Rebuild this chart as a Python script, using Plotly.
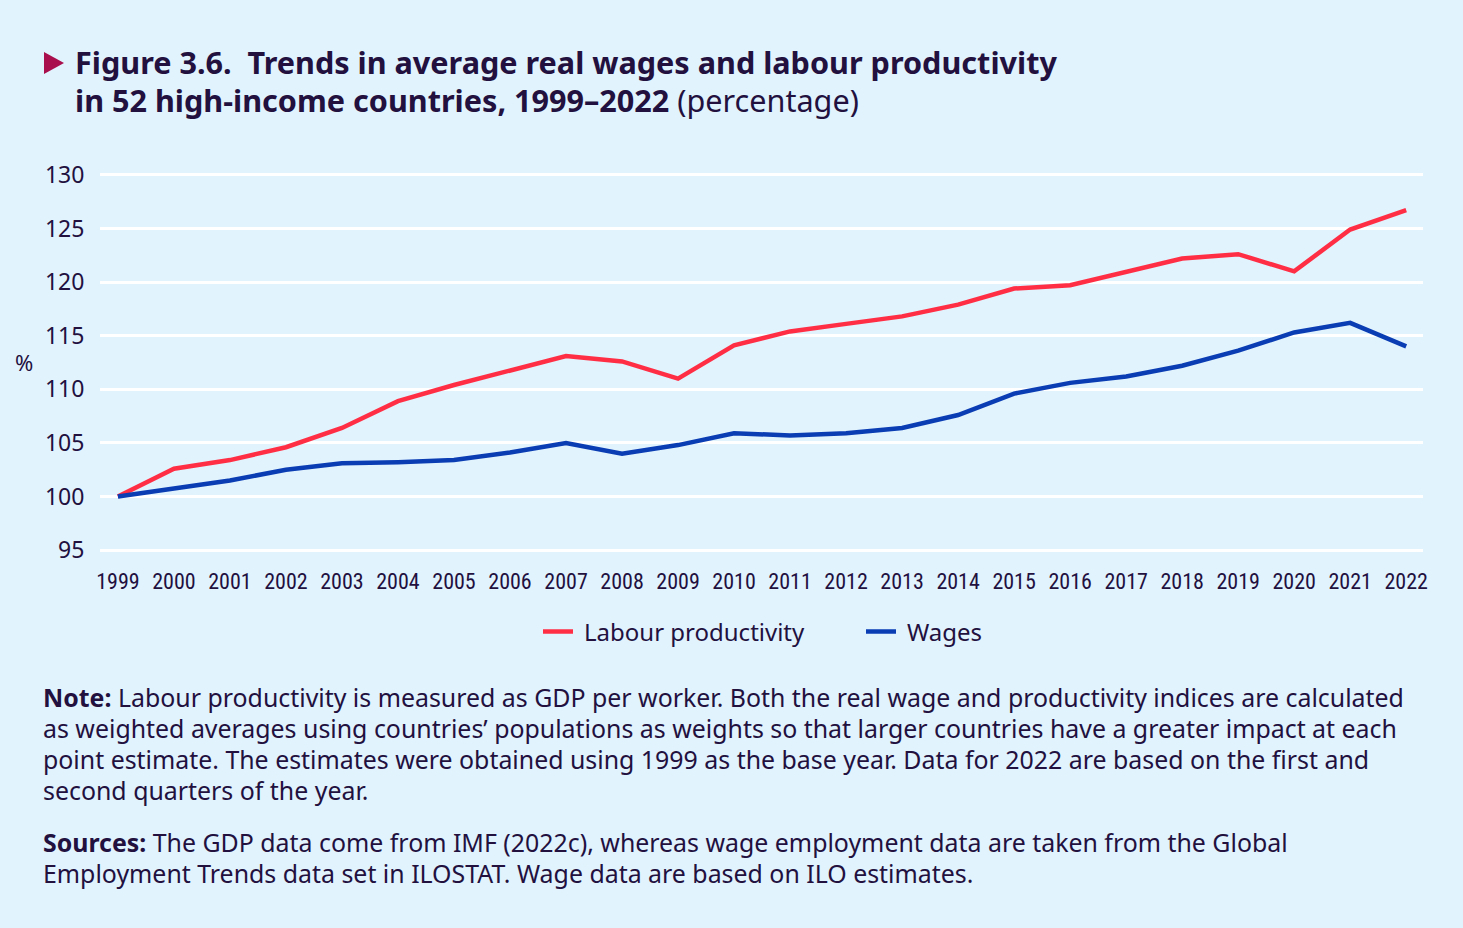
import plotly.graph_objects as go

years = list(range(1999, 2023))
productivity = [100, 102.6, 103.4, 104.6, 106.4, 108.9, 110.4, 111.8, 113.1, 112.6, 111.0,
                114.1, 115.4, 116.1, 116.8, 117.9, 119.4, 119.7, 121.0, 122.2, 122.6, 121.0,
                124.9, 126.7]
wages = [100, 100.8, 101.5, 102.5, 103.1, 103.2, 103.4, 104.1, 105.0, 104.0, 104.8,
         105.9, 105.7, 105.9, 106.4, 107.6, 109.6, 110.6, 111.2, 112.2, 113.6, 115.3,
         116.2, 114.0]
y_ticks = [95, 100, 105, 110, 115, 120, 125, 130]

title_lines = ["<b>Figure 3.6.  Trends in average real wages and labour productivity</b>",
               "<b>in 52 high-income countries, 1999–2022</b> (percentage)"]
note_lines = ["<b>Note:</b> Labour productivity is measured as GDP per worker. Both the real wage and productivity indices are calculated",
              "as weighted averages using countries’ populations as weights so that larger countries have a greater impact at each",
              "point estimate. The estimates were obtained using 1999 as the base year. Data for 2022 are based on the first and",
              "second quarters of the year."]
source_lines = ["<b>Sources:</b> The GDP data come from IMF (2022c), whereas wage employment data are taken from the Global",
                "Employment Trends data set in ILOSTAT. Wage data are based on ILO estimates."]

BG = "#E1F3FD"
TXT = "#22103F"
RED = "#FF2E45"
BLUE = "#0A3CB4"
FONT = "Noto Sans"
COND = "Noto Sans Condensed, Noto Sans SemiCondensed, Roboto Condensed, DejaVu Sans Condensed, Liberation Sans Narrow, Roboto"

W, H = 1463, 928
L, R, T, B = 100, 40, 170, 373
PW, PH = W - L - R, H - T - B

def px(x):
    return (x - L) / PW

def py(y):
    return (H - B - y) / PH

fig = go.Figure()
fig.add_trace(go.Scatter(x=years, y=productivity, mode="lines", name="\u2005Labour productivity",
                         line=dict(color=RED, width=4.5)))
fig.add_trace(go.Scatter(x=years, y=wages, mode="lines", name="\u2005Wages",
                         line=dict(color=BLUE, width=4.5)))

fig.update_layout(
    width=W, height=H,
    paper_bgcolor=BG, plot_bgcolor=BG,
    margin=dict(l=L, r=R, t=T, b=B),
    font=dict(family=FONT, color=TXT),
    showlegend=True,
    legend=dict(orientation="h", x=px(861), xanchor="center", y=py(632), yanchor="middle",
                font=dict(size=24, color=TXT), itemwidth=30, tracegroupgap=0,
                bgcolor="rgba(0,0,0,0)", entrywidthmode="pixels", entrywidth=278),
)
fig.update_xaxes(range=[1998.68, 2022.3], tickmode="array", tickvals=years,
                 ticktext=[str(y) for y in years], showgrid=False, zeroline=False,
                 showline=False, ticks="outside", ticklen=7, tickcolor="rgba(0,0,0,0)",
                 tickfont=dict(family=COND, size=22, color=TXT))
fig.update_yaxes(range=[94.55, 130.45], tickmode="array", tickvals=y_ticks,
                 showgrid=True, gridcolor="white", gridwidth=3, zeroline=False,
                 showline=False, ticks="outside", ticklen=10, tickcolor="rgba(0,0,0,0)",
                 tickfont=dict(family=FONT, size=23, color=TXT))

# Title marker
fig.add_shape(type="path", xref="paper", yref="paper",
              path=f"M {px(44)} {py(52)} L {px(64)} {py(63)} L {px(44)} {py(74)} Z",
              fillcolor="#A80F4C", line=dict(width=0))
# Title
for t, yy in zip(title_lines, [62, 100]):
    fig.add_annotation(xref="paper", yref="paper", x=px(73), y=py(yy), xanchor="left", yanchor="middle",
                       showarrow=False, align="left", text=t,
                       font=dict(family=FONT, size=30.6, color=TXT))
# % label
fig.add_annotation(xref="paper", yref="paper", x=px(24), y=py(362), xanchor="center", yanchor="middle",
                   showarrow=False, text="%", font=dict(family=FONT, size=22, color=TXT))
# Note and sources
for t, yy in zip(note_lines + source_lines, [697, 728, 759, 790, 842, 873]):
    fig.add_annotation(xref="paper", yref="paper", x=px(41), y=py(yy), xanchor="left", yanchor="middle",
                       showarrow=False, align="left", text=t,
                       font=dict(family=FONT, size=24.9, color=TXT))

fig.write_html("out.html", config={"displayModeBar": False},
               post_script="document.body.style.margin='0';document.body.style.background='" + BG + "';")
